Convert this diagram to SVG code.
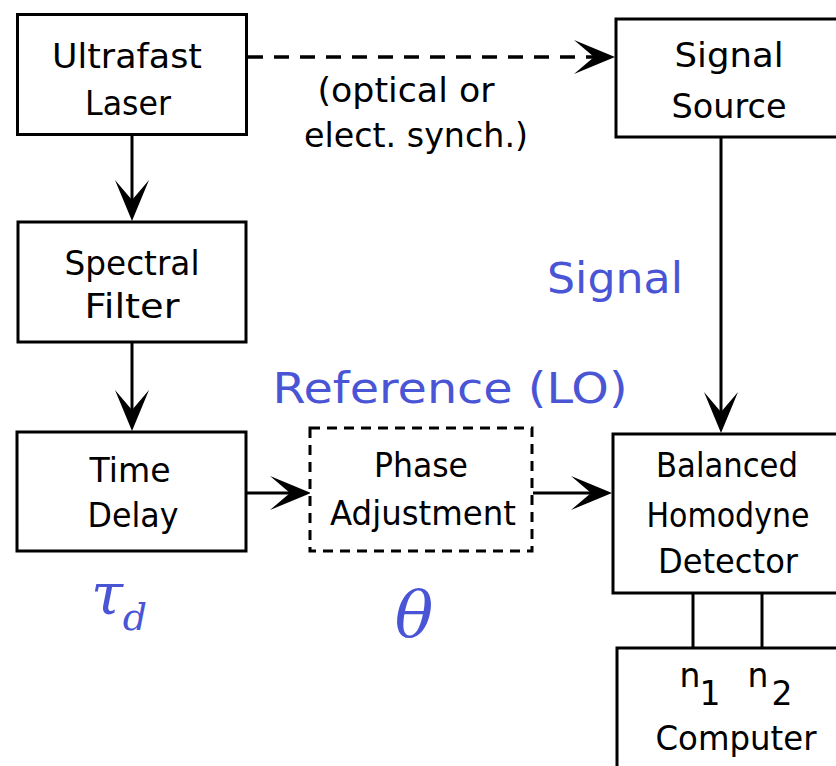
<svg xmlns="http://www.w3.org/2000/svg" width="836" height="766" viewBox="0 0 836 766">
<defs>
<style>
.box{fill:#fff;stroke:#000;stroke-width:3}
.dbox{fill:#fff;stroke:#000;stroke-width:3;stroke-dasharray:10 7}
.ln{stroke:#000;stroke-width:3;fill:none}
.dln{stroke:#000;stroke-width:3.5;fill:none;stroke-dasharray:15 11}
.t{font-family:"DejaVu Sans","Liberation Sans",sans-serif;font-size:33px;fill:#000;text-anchor:middle}
.b{font-family:"DejaVu Sans","Liberation Sans",sans-serif;font-size:43px;fill:#4a55d6;text-anchor:middle}
.g{font-family:"DejaVu Serif","Liberation Serif",serif;font-style:italic;fill:#4a55d6;text-anchor:middle}
</style>
<marker id="ah" viewBox="-22 -20 44 40" refX="0" refY="0" markerWidth="44" markerHeight="40" markerUnits="userSpaceOnUse" orient="auto">
<path d="M21,0 L-20,-17 L0,0 L-20,17 Z" fill="#000"/>
</marker>
</defs>
<rect width="836" height="766" fill="#fff"/>
<g id="connectors">
<line class="ln" x1="132" y1="135" x2="132" y2="200" marker-end="url(#ah)"/>
<line class="ln" x1="132" y1="342" x2="132" y2="410" marker-end="url(#ah)"/>
<line class="ln" x1="247" y1="493" x2="290" y2="493" marker-end="url(#ah)"/>
<line class="ln" x1="533" y1="493" x2="591" y2="493" marker-end="url(#ah)"/>
<line class="dln" x1="248" y1="57" x2="594" y2="57" marker-end="url(#ah)"/>
<line class="ln" x1="721" y1="137" x2="721" y2="412" marker-end="url(#ah)"/>
<line class="ln" x1="693" y1="593" x2="693" y2="648"/>
<line class="ln" x1="762" y1="593" x2="762" y2="648"/>
</g>
<g id="laser">
<rect class="box" x="17.5" y="14.5" width="229" height="120"/>
<text class="t" x="127" y="68" textLength="150" lengthAdjust="spacingAndGlyphs">Ultrafast</text>
<text class="t" x="128" y="115" textLength="86" lengthAdjust="spacingAndGlyphs">Laser</text>
</g>
<g id="filter">
<rect class="box" x="18" y="222" width="228" height="120"/>
<text class="t" x="132" y="275" textLength="135" lengthAdjust="spacingAndGlyphs">Spectral</text>
<text class="t" x="132" y="318" textLength="95" lengthAdjust="spacingAndGlyphs">Filter</text>
</g>
<g id="delay">
<rect class="box" x="17" y="432" width="229" height="119"/>
<text class="t" x="130" y="482" textLength="81" lengthAdjust="spacingAndGlyphs">Time</text>
<text class="t" x="133" y="527" textLength="91" lengthAdjust="spacingAndGlyphs">Delay</text>
</g>
<g id="phase">
<rect class="dbox" x="310" y="428" width="222" height="123"/>
<text class="t" x="421" y="477" textLength="94" lengthAdjust="spacingAndGlyphs">Phase</text>
<text class="t" x="423" y="525" textLength="186" lengthAdjust="spacingAndGlyphs">Adjustment</text>
</g>
<g id="source">
<rect class="box" x="616" y="19" width="240" height="118"/>
<text class="t" x="729" y="67" textLength="109" lengthAdjust="spacingAndGlyphs">Signal</text>
<text class="t" x="729" y="118" textLength="115" lengthAdjust="spacingAndGlyphs">Source</text>
</g>
<g id="sync-label">
<text class="t" x="406" y="102" textLength="177" lengthAdjust="spacingAndGlyphs">(optical or</text>
<text class="t" x="416" y="147" textLength="224" lengthAdjust="spacingAndGlyphs">elect. synch.)</text>
</g>
<g id="detector">
<rect class="box" x="613" y="434" width="240" height="159"/>
<text class="t" x="727" y="477" textLength="142" lengthAdjust="spacingAndGlyphs">Balanced</text>
<text class="t" x="728" y="527" textLength="163" lengthAdjust="spacingAndGlyphs">Homodyne</text>
<text class="t" x="728" y="573" textLength="140" lengthAdjust="spacingAndGlyphs">Detector</text>
</g>
<g id="computer">
<rect class="box" x="617" y="648" width="240" height="140"/>
<text class="t" x="690" y="687">n</text>
<text class="t" x="710" y="705">1</text>
<text class="t" x="758" y="687">n</text>
<text class="t" x="782" y="705">2</text>
<text class="t" x="736" y="750" textLength="161" lengthAdjust="spacingAndGlyphs">Computer</text>
</g>
<g id="labels">
<text class="b" x="615" y="293" textLength="136" lengthAdjust="spacingAndGlyphs">Signal</text>
<text class="b" x="450" y="403" textLength="355" lengthAdjust="spacingAndGlyphs">Reference (LO)</text>
<text class="g" x="107" y="614" font-size="58">τ</text>
<text class="g" x="135" y="630" font-size="38">d</text>
<text class="g" x="414" y="636" font-size="64">θ</text>
</g>
</svg>
